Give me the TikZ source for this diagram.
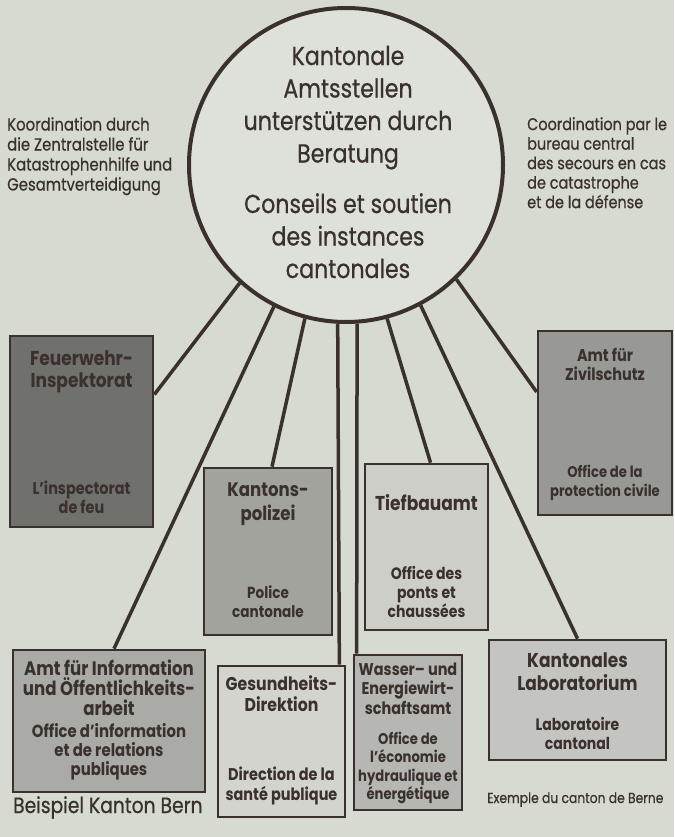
\documentclass[tikz,border=0pt]{standalone}
\usepackage{fontspec}
\setmainfont{Poppins}[FakeStretch=0.85]
\newfontfamily\bookfont{Poppins}[FakeStretch=0.85, FakeBold=0.6]
\usepackage{tikz}
\usetikzlibrary{shapes,arrows,positioning}
\definecolor{paper}{RGB}{214, 218, 208}
\definecolor{ink}{RGB}{58, 48, 44}
\definecolor{hubfill}{RGB}{222, 225, 217}
\tikzstyle{amt} = [rectangle, draw=ink, line width=2.7pt, inner sep=0pt]
\tikzstyle{detext} = [text=ink, font=\bfseries\fontsize{17}{19.5}\selectfont, align=center, inner sep=0pt]
\tikzstyle{frtext} = [detext, font=\bfseries\fontsize{15.5}{18.5}\selectfont]
\tikzstyle{note} = [text=ink, font=\bookfont\fontsize{17.5}{20}\selectfont, align=left, inner sep=0pt]
\tikzstyle{link} = [draw=ink, line width=3.5pt]

\begin{document}
\begin{tikzpicture}[x=1pt, y=-1pt]
    \useasboundingbox (0,0) rectangle (674,837);
    \fill [paper] (0,0) rectangle (674,837);

    % centre
    \node [circle, draw=ink, line width=4pt, fill=hubfill, minimum size=314pt, inner sep=0pt] (hub) at (346,165) {};
    \node [text=ink, align=center, inner sep=0pt, font=\bookfont\fontsize{26}{32.5}\selectfont] (hubtext) at (348,162)
        {Kantonale\\Amtsstellen\\unterstützen durch\\Beratung\\[18pt]Conseils et soutien\\des instances\\cantonales};

    \node [note, anchor=north west] (koord) at (7,117) {Koordination durch\\die Zentralstelle für\\Katastrophenhilfe und\\Gesamtverteidigung};
    \node [note, anchor=north west, font=\bookfont\fontsize{17}{19.5}\selectfont] (coord) at (527,117) {Coordination par le\\bureau central\\des secours en cas\\de catastrophe\\et de la défense};

    % offices
    \node [amt, fill={rgb,255:red,112;green,112;blue,109}, minimum width=143pt, minimum height=191pt] (fw) at (81.5,431.5) {};
    \node [detext, below=16pt of fw.north, font=\bfseries\fontsize{20}{22}\selectfont] (fw-de) {Feuerwehr-\\Inspektorat};
    \node [frtext, above=15pt of fw.south, font=\bfseries\fontsize{17}{19}\selectfont] (fw-fr) {L'inspectorat\\de feu};

    \node [amt, fill={rgb,255:red,152;green,152;blue,148}, minimum width=134pt, minimum height=184pt] (zs) at (605,423) {};
    \node [detext, below=18pt of zs.north] (zs-de) {Amt für\\Zivilschutz};
    \node [frtext, above=16pt of zs.south] (zs-fr) {Office de la\\protection civile};

    \node [amt, fill={rgb,255:red,163;green,163;blue,158}, minimum width=128pt, minimum height=167pt] (kp) at (268,551.5) {};
    \node [detext, below=16pt of kp.north, font=\bfseries\fontsize{19.5}{24}\selectfont] (kp-de) {Kantons-\\polizei};
    \node [frtext, above=19pt of kp.south, font=\bfseries\fontsize{16}{19}\selectfont] (kp-fr) {Police\\cantonale};

    \node [amt, fill={rgb,255:red,205;green,206;blue,200}, minimum width=123pt, minimum height=166pt] (tb) at (426.5,547) {};
    \node [detext, below=32pt of tb.north, font=\bfseries\fontsize{20}{24}\selectfont] (tb-de) {Tiefbauamt};
    \node [frtext, above=14pt of tb.south, font=\bfseries\fontsize{16.5}{19}\selectfont] (tb-fr) {Office des\\ponts et\\chaussées};

    \node [amt, fill={rgb,255:red,170;green,171;blue,166}, minimum width=192pt, minimum height=142pt] (info) at (109,721) {};
    \node [detext, below=11pt of info.north, font=\bfseries\fontsize{19.5}{20}\selectfont] (info-de) {Amt für Information\\und Öffentlichkeits-\\arbeit};
    \node [frtext, above=13pt of info.south, font=\bfseries\fontsize{17.5}{19}\selectfont] (info-fr) {Office d'information\\et de relations\\publiques};

    \node [amt, fill={rgb,255:red,211;green,212;blue,206}, minimum width=127pt, minimum height=151pt] (gd) at (281.5,741.5) {};
    \node [detext, below=11pt of gd.north, font=\bfseries\fontsize{18.5}{21}\selectfont] (gd-de) {Gesundheits-\\Direktion};
    \node [frtext, above=13pt of gd.south, font=\bfseries\fontsize{17}{20}\selectfont] (gd-fr) {Direction de la\\santé publique};

    \node [amt, fill={rgb,255:red,182;green,183;blue,178}, minimum width=108pt, minimum height=155pt] (we) at (408,732.5) {};
    \node [detext, below=9pt of we.north] (we-de) {Wasser– und\\Energiewirt-\\schaftsamt};
    \node [frtext, above=7pt of we.south] (we-fr) {Office de\\l'économie\\hydraulique et\\énergétique};

    \node [amt, fill={rgb,255:red,196;green,197;blue,192}, minimum width=177pt, minimum height=120pt] (lab) at (577.5,700) {};
    \node [detext, below=14pt of lab.north, font=\bfseries\fontsize{20}{23}\selectfont] (lab-de) {Kantonales\\Laboratorium};
    \node [frtext, above=12pt of lab.south, font=\bfseries\fontsize{16.5}{19}\selectfont] (lab-fr) {Laboratoire\\cantonal};

    \node [note, anchor=base west, font=\bookfont\fontsize{22}{24}\selectfont] (bern) at (13,813) {Beispiel Kanton Bern};
    \node [note, anchor=base west, font=\bookfont\fontsize{14.5}{17}\selectfont] (berne) at (487,803) {Exemple du canton de Berne};

    \path [link] (hub.228) -- ([yshift=37pt]fw.east);
    \path [link] (hub.243) -- ([xshift=5pt]info.north);
    \path [link] (hub.255) -- ([xshift=4pt]kp.north);
    \path [link] (hub.267) -- ([xshift=-7pt]gd.north east);
    \path [link] (hub.274) -- ([xshift=4pt]we.north west);
    \path [link] (hub.285) -- ([xshift=4pt]tb.north);
    \path [link] (hub.298) -- (lab.north);
    \path [link] (hub.314) -- ([yshift=31pt]zs.west);
\end{tikzpicture}
\end{document}
